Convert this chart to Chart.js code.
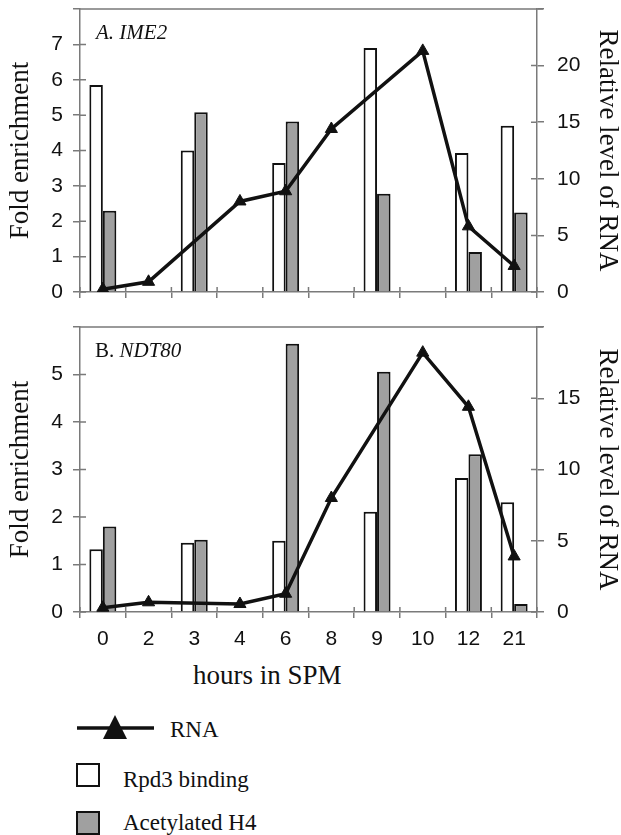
<!DOCTYPE html>
<html>
<head>
<meta charset="utf-8">
<script src="https://cdn.jsdelivr.net/npm/chart.js@4/dist/chart.umd.min.js"></script>
<style>
  body { margin: 0; background: #fff; width: 621px; height: 835px; position: relative; overflow: hidden; }
  canvas { position: absolute; left: 0; }
  .txt { position: absolute; font-family: "Liberation Serif", "Times New Roman", serif; color: #111; line-height: 1; white-space: nowrap; }
  .box { position: absolute; width: 20px; height: 20px; border: 2px solid #111; }
</style>
</head>
<body>
<canvas id="chartA" width="621" height="310" style="top:0"></canvas>
<canvas id="chartB" width="621" height="345" style="top:310px"></canvas>

<div class="txt" style="left:96px; top:22px; font-size:21px; font-style:italic">A. IME2</div>
<div class="txt" style="left:95px; top:340px; font-size:21px">B. <i>NDT80</i></div>
<div class="txt" style="left:193px; top:662px; font-size:27px">hours in SPM</div>

<svg style="position:absolute; left:0; top:700px" width="200" height="50">
  <line x1="77" y1="28" x2="154" y2="28" stroke="#111" stroke-width="3.5"/>
  <polygon points="115,15 103,39 127,39" fill="#111"/>
</svg>
<div class="txt" style="left:170px; top:718px; font-size:23px">RNA</div>
<div class="box" style="left:76px; top:763px; background:#fff"></div>
<div class="txt" style="left:123px; top:768px; font-size:23px">Rpd3 binding</div>
<div class="box" style="left:76px; top:811px; background:#a0a0a0"></div>
<div class="txt" style="left:123px; top:811px; font-size:23px">Acetylated H4</div>

<script>
const hours = ['0', '2', '3', '4', '6', '8', '9', '10', '12', '21'];

// A. IME2
const imeRpd3 = [5.85, null, 4.0, null, 3.65, null, 6.9, null, 3.93, 4.7];
const imeH4 = [2.3, null, 5.08, null, 4.82, null, 2.78, null, 1.13, 2.25];
const imeRna = [0.25, 0.9, null, 8.0, 8.9, 14.4, null, 21.3, 5.8, 2.3];

// B. NDT80
const ndtRpd3 = [1.32, null, 1.46, null, 1.5, null, 2.11, null, 2.82, 2.31];
const ndtH4 = [1.8, null, 1.52, null, 5.65, null, 5.06, null, 3.32, 0.17];
const ndtRna = [0.3, 0.68, null, 0.56, 1.28, 8.0, null, 18.2, 14.4, 3.9];

const axisColor = '#7a7a7a';
const ink = '#111';
const sans = '"Liberation Sans", Arial, sans-serif';
const serif = '"Liberation Serif", "Times New Roman", serif';

// top frame line + inner halves of the tick marks
const frame = {
  id: 'frame',
  afterDraw(chart) {
    const {ctx, chartArea} = chart;
    const {y, y2, x} = chart.scales;
    ctx.save();
    ctx.strokeStyle = axisColor;
    ctx.lineWidth = 1.5;
    ctx.beginPath();
    ctx.moveTo(chartArea.left, chartArea.top);
    ctx.lineTo(chartArea.right + 6, chartArea.top);
    y.ticks.forEach(t => {
      const py = y.getPixelForValue(t.value);
      ctx.moveTo(chartArea.left, py);
      ctx.lineTo(chartArea.left + 6, py);
    });
    y2.ticks.forEach(t => {
      const py = y2.getPixelForValue(t.value);
      ctx.moveTo(chartArea.right, py);
      ctx.lineTo(chartArea.right - 6, py);
    });
    const step = (x.right - x.left) / hours.length;
    for (let i = 0; i <= hours.length; i++) {
      const px = x.left + i * step;
      ctx.moveTo(px, chartArea.bottom);
      ctx.lineTo(px, chartArea.bottom - 5);
    }
    ctx.stroke();
    ctx.restore();
  }
};

function hideTop(value, index, ticks) {
  return index === ticks.length - 1 ? '' : value;
}

function makeChart(id, rpd3, h4, rna, leftMax, rightMax, padTop, xHeight, showLabels) {
  return new Chart(document.getElementById(id).getContext('2d'), {
    type: 'bar',
    data: {
      labels: hours,
      datasets: [{
        type: 'line',
        label: 'RNA',
        data: rna,
        yAxisID: 'y2',
        order: 0,
        borderColor: ink,
        borderWidth: 3.5,
        tension: 0,
        spanGaps: true,
        pointStyle: 'triangle',
        pointRadius: 7,
        pointBackgroundColor: ink,
        pointBorderColor: ink,
        pointBorderWidth: 1
      }, {
        label: 'Rpd3 binding',
        data: rpd3,
        yAxisID: 'y',
        order: 1,
        backgroundColor: '#ffffff',
        borderColor: ink,
        borderWidth: 2
      }, {
        label: 'Acetylated H4',
        data: h4,
        yAxisID: 'y',
        order: 1,
        backgroundColor: '#a0a0a0',
        borderColor: ink,
        borderWidth: 2
      }]
    },
    options: {
      responsive: false,
      animation: false,
      devicePixelRatio: 1,
      categoryPercentage: 0.59,
      barPercentage: 1.0,
      layout: {padding: {top: padTop, left: 0, right: 0, bottom: 0}},
      plugins: {legend: {display: false}, tooltip: {enabled: false}},
      scales: {
        x: {
          grid: {drawOnChartArea: false, offset: true, color: axisColor, lineWidth: 1.5, tickLength: 6},
          border: {color: axisColor, width: 1.5},
          ticks: {display: showLabels, color: ink, padding: 9, font: {family: sans, size: 21}},
          afterFit(s) { s.height = xHeight; s.paddingLeft = 0; s.paddingRight = 0; }
        },
        y: {
          position: 'left',
          min: 0,
          max: leftMax,
          grid: {drawOnChartArea: false, color: axisColor, lineWidth: 1.5, tickLength: 7},
          border: {color: axisColor, width: 1.5},
          ticks: {stepSize: 1, color: ink, padding: 10, font: {family: sans, size: 21}, callback: hideTop},
          title: {display: true, text: 'Fold enrichment', color: ink, padding: {top: 7}, font: {family: serif, size: 27, lineHeight: 1}},
          afterFit(s) { s.width = 80; s.paddingTop = 0; s.paddingBottom = 0; }
        },
        y2: {
          position: 'right',
          min: 0,
          max: rightMax,
          grid: {drawOnChartArea: false, color: axisColor, lineWidth: 1.5, tickLength: 7},
          border: {color: axisColor, width: 1.5},
          ticks: {stepSize: 5, color: ink, padding: 13, font: {family: sans, size: 21}, callback: hideTop},
          title: {display: true, text: 'Relative level of RNA', color: ink, padding: {top: 0}, font: {family: serif, size: 27, lineHeight: 1}},
          afterFit(s) { s.width = 84; s.paddingTop = 0; s.paddingBottom = 0; }
        }
      }
    },
    plugins: [frame]
  });
}

makeChart('chartA', imeRpd3, imeH4, imeRna, 8, 25, 9, 18, false);
makeChart('chartB', ndtRpd3, ndtH4, ndtRna, 6, 20, 17, 43, true);
</script>
</body>
</html>
